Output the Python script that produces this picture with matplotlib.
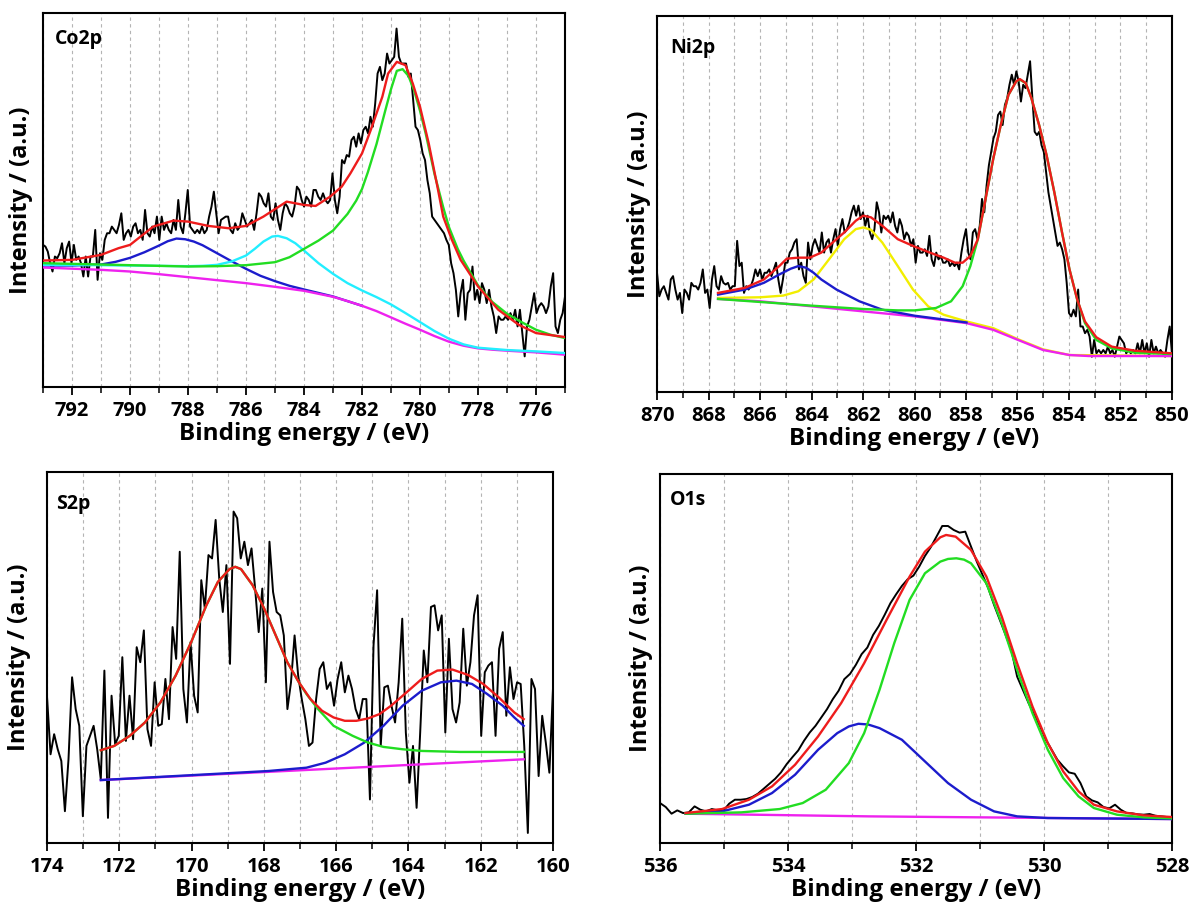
import numpy as np
import matplotlib
matplotlib.use("Agg")
import matplotlib.pyplot as plt
from matplotlib.ticker import MultipleLocator

plt.rcParams['font.family'] = ['Open Sans', 'DejaVu Sans']

# ---------------- Co2p ----------------
co_range = (793, 775)
co_raw = [427,422,407,372,347,392,387,402,432,372,
          417,437,372,427,382,392,372,332,392,332,
          392,392,472,322,402,382,442,462,462,482,
          472,462,487,522,442,462,472,452,482,492,
          462,472,442,532,462,452,482,462,512,442,
          512,472,492,472,462,502,472,562,482,462,
          522,592,482,472,462,472,462,482,462,472,
          512,542,587,522,462,502,507,512,512,472,
          462,492,472,482,522,502,482,492,502,472,
          522,582,572,552,542,582,512,502,552,502,
          472,522,552,542,522,512,542,602,592,562,
          542,572,562,542,592,592,572,562,582,562,
          552,562,642,562,522,572,682,672,697,692,
          742,752,722,762,732,772,782,762,812,782,
          852,942,962,922,942,1002,972,982,992,1077,
          992,972,972,972,932,942,862,782,772,742,
          702,682,622,582,512,502,492,482,472,462,
          442,427,372,342,292,212,282,322,202,282,
          292,362,262,292,252,312,292,252,292,242,
          212,162,212,202,202,212,202,222,202,232,
          182,232,162,92,182,202,242,282,222,242,
          252,242,222,242,302,342,182,162,202,222,
          272]
co_bg_x = [793,791,790,789,788,787,786,785,784,783,782.5,782,781.5,781,780.5,780,779.5,779,778.5,778,777.5,777,776,775]
co_bg_y = [359,352,347,339,330,321,312,301,289,271,258,244,228,209,190,172,153,136,124,116,112,109,104,97]
co_blue_x = [793,792,791,790.5,790,789.5,789,788.7,788.4,788.1,787.8,787.5,787,786.5,786,785.5,785,784.5,784,783,782.5,782]
co_blue_y = [365,365,368,376,388,405,425,438,446,444,437,426,402,378,355,334,318,304,293,272,258,244]
co_cyan_x = [793,791,789,788,787.5,787,786.5,786,785.7,785.4,785.1,784.9,784.6,784.3,784,783.5,783,782.5,782,781.5,781,780.5,780,779.5,779,778.5,778,777,776,775]
co_cyan_y = [367,366,364,363,364,367,377,395,415,437,452,454,447,432,410,372,340,312,290,270,248,222,195,168,145,128,118,111,107,102]
co_green_x = [793,791,789,788,787,786,785,784.5,784,783.5,783,782.5,782.2,782,781.8,781.5,781.2,781,780.8,780.6,780.4,780.2,780,779.8,779.5,779.2,779,778.7,778.5,778,777.5,777,776.5,776,775.5,775]
co_green_y = [372,368,364,362,363,366,375,390,415,440,470,520,560,595,645,730,830,895,950,955,935,890,830,760,640,540,480,415,380,305,255,220,195,172,157,147]
co_red_x = [793,792,791,790.4,790,789.2,788.5,788,787.3,786.6,786,785.4,784.6,784,783.6,783.1,782.7,782.4,782,781.7,781.3,781.1,780.8,780.5,780.25,780,779.7,779.4,779.2,778.9,778.6,778,777.3,776.6,776,775]
co_red_y = [380,382,397,417,427,482,500,497,484,477,484,512,557,547,544,572,602,642,702,772,872,942,977,967,912,842,732,602,512,442,382,302,232,187,162,150]

# ---------------- Ni2p ----------------
ni_range = (870, 850)
ni_raw = [355,285,305,315,295,275,335,345,305,275,
          295,235,305,295,275,325,315,315,305,325,
          365,295,305,250,335,375,315,305,345,325,
          320,325,305,315,315,450,375,385,295,315,
          305,315,335,365,345,365,335,355,355,365,
          345,365,385,335,295,335,385,385,415,425,
          445,455,365,385,345,325,445,395,435,455,
          435,415,475,415,445,455,415,455,485,435,
          485,515,475,485,505,535,555,525,555,515,
          535,495,525,475,455,485,565,535,475,525,
          515,525,505,535,495,475,515,495,455,475,
          465,435,455,385,435,415,415,425,405,465,
          395,375,415,395,405,385,385,395,375,385,
          375,385,365,415,455,485,415,395,475,485,
          455,495,575,535,615,675,715,755,775,825,
          835,795,855,875,915,945,915,955,925,865,
          915,905,945,985,875,775,765,775,735,715,
          655,595,555,515,475,435,445,425,395,325,
          235,225,245,225,305,195,195,175,185,165,
          105,155,115,125,115,125,115,135,115,125,
          105,135,165,155,145,115,125,115,125,115,
          145,115,155,115,145,105,155,115,135,115,
          125,115,105,155,195,115]
ni_bg_x = [867.63,865.99,863.99,861.99,859.99,857.98,856.94,855.98,855.01,853.98,853.23,850]
ni_bg_y = [277,270,255,240,225,205,185,155,125,110,107,107]
ni_blue_x = [867.63,866.59,865.85,865.25,864.81,864.51,864.21,863.92,863.62,863.03,862.14,861.25,859.99,857.98]
ni_blue_y = [290,305,325,350,367,375,370,355,335,305,270,245,227,207]
ni_yel_x = [867.63,865.99,865.10,864.51,863.92,863.32,862.73,862.28,861.99,861.69,861.25,860.65,860.06,859.47,858.87,857.98,856.94,855.98,855.01,853.98,850]
ni_yel_y = [280,282,287,300,335,395,455,485,490,483,445,375,305,255,230,210,190,157,127,110,107]
ni_green_x = [867.63,863.99,861.99,860.65,859.99,859.17,858.58,858.13,857.83,857.54,857.24,856.94,856.65,856.35,856.05,855.91,855.68,855.46,855.16,854.87,854.57,854.27,853.98,853.68,853.38,852.94,852.34,851.45,850]
ni_green_y = [277,257,247,243,243,250,270,315,375,455,575,695,795,885,925,930,920,875,795,705,595,475,365,275,205,155,130,117,113]
ni_red_x = [867.63,866.59,865.85,865.25,864.96,864.51,864.07,863.62,863.18,862.73,862.28,861.99,861.69,861.25,860.65,860.06,859.47,858.87,858.43,858.13,857.83,857.54,857.24,856.94,856.65,856.35,856.05,855.91,855.68,855.46,855.16,854.87,854.57,854.27,853.98,853.68,853.38,852.94,852.34,851.45,850]
ni_red_y = [295,310,335,375,397,400,400,415,445,475,510,525,520,495,455,435,417,400,385,385,405,455,575,695,795,885,925,932,920,875,795,705,595,475,365,275,210,163,135,123,115]

# ---------------- S2p ----------------
s_range = (174, 160)
s_raw = [440,265,325,280,245,95,250,495,400,350,
         80,290,320,350,280,190,515,75,440,295,
         320,555,305,440,310,585,540,635,340,290,
         480,350,355,490,370,645,550,870,460,360,
         600,440,390,785,700,860,850,965,790,690,
         830,535,990,970,850,900,830,880,760,630,
         760,480,900,750,690,680,620,400,480,620,
         500,430,370,290,300,430,520,540,460,480,
         410,490,540,450,500,460,400,370,430,430,
         130,590,755,290,465,470,410,360,480,670,
         330,180,290,105,330,575,480,705,710,635,
         680,330,610,400,360,420,640,470,540,680,
         740,320,510,530,540,320,580,630,380,525,
         430,480,475,290,30,490,460,200,380,300,
         210,460]
s_bg_x = [172.51,166.66,160.81]
s_bg_y = [188,219,250]
s_red_x = [172.51,172.14,171.71,171.29,170.86,170.44,170.01,169.59,169.27,168.95,168.79,168.63,168.31,167.99,167.67,167.35,167.03,166.71,166.39,166.07,165.76,165.44,165.12,164.80,164.48,164.05,163.63,163.20,162.78,162.35,161.93,161.50,161.07,160.81]
s_red_y = [277,290,320,360,420,500,600,710,780,818,825,818,770,700,620,540,480,430,395,375,365,365,372,385,410,450,490,515,518,502,475,435,390,370]
s_green_x = [172.51,172.14,171.71,171.29,170.86,170.44,170.01,169.59,169.27,168.95,168.79,168.63,168.31,167.99,167.67,167.35,167.03,166.82,166.5,166.07,165.54,165.12,164.69,164.16,163.63,162.56,160.81]
s_green_y = [277,290,320,360,420,500,600,710,780,818,825,818,770,700,620,540,480,445,400,350,320,300,287,280,275,272,272]
s_blue_x = [172.51,167.88,166.82,166.29,165.76,165.22,164.69,164.16,163.63,163.10,162.67,162.24,161.82,161.39,161.07,160.81]
s_blue_y = [188,215,225,240,265,300,350,410,455,480,485,475,445,410,375,350]

# ---------------- O1s ----------------
o_range = (536, 528)
o_raw_end = 527.99
o_raw = [120,108,88,98,90,92,110,100,95,102,
         98,97,118,130,130,132,138,148,163,178,
         193,212,237,258,278,307,332,352,377,402,
         432,457,492,508,535,567,587,625,652,685,
         720,747,772,792,803,830,862,888,920,952,
         952,940,932,935,890,845,805,765,715,670,
         625,580,500,460,420,385,350,310,280,250,
         230,212,208,180,140,128,122,108,104,115,
         100,90,89,86,85,87,82,80,78,75]
o_bg_x = [535.60,532.74,528.0]
o_bg_y = [88,80,72]
o_blue_x = [535.60,535.03,534.61,534.25,533.89,533.53,533.23,533.05,532.90,532.75,532.57,532.22,531.86,531.50,531.14,530.78,530.42,529.94,528.0]
o_blue_y = [88,95,115,150,205,280,330,350,358,356,345,310,245,180,130,95,80,75,72]
o_green_x = [535.60,534.73,534.13,533.77,533.41,533.05,532.81,532.57,532.34,532.10,531.86,531.62,531.50,531.37,531.25,531.14,530.90,530.66,530.42,530.18,529.94,529.70,529.46,529.22,528.86,528.44,528.0]
o_green_y = [88,92,102,120,160,240,330,460,600,730,810,845,853,855,851,840,780,660,520,390,280,195,140,105,85,77,74]
o_red_x = [535.60,535.03,534.61,534.25,533.89,533.53,533.17,532.81,532.46,532.10,531.86,531.62,531.53,531.38,531.14,530.90,530.66,530.42,530.18,529.94,529.70,529.46,529.22,528.86,528.44,528.0]
o_red_y = [90,102,130,170,235,320,420,540,670,800,875,918,925,920,880,800,680,540,410,300,215,155,115,95,83,78]

C_RED = '#ee1c1c'
C_GREEN = '#22dd22'
C_BLUE = '#1c1ccc'
C_CYAN = '#22eeff'
C_MAG = '#ee22ee'
C_YEL = '#f2ee00'

fig = plt.figure(figsize=(11.92, 9.05), dpi=100)

def setup(ax, xr, ymax, label, ylab_x, lab_pos):
    ax.set_xlim(xr)
    ax.set_ylim(0, ymax)
    ax.xaxis.set_major_locator(MultipleLocator(2))
    ax.xaxis.set_minor_locator(MultipleLocator(1))
    ax.set_yticks([])
    for x in range(int(min(xr)), int(max(xr)) + 1):
        ax.axvline(x, color='#b4b4b4', lw=0.8, ls=(0, (3, 3)), zorder=0)
    for s in ax.spines.values():
        s.set_linewidth(1.5)
    ax.tick_params(axis='x', which='major', direction='out', length=6, width=1.3,
                   labelsize=14.5, pad=4)
    ax.tick_params(axis='x', which='minor', direction='out', length=4, width=1.1)
    for t in ax.get_xticklabels():
        t.set_fontweight('bold')
    ax.set_xlabel('Binding energy / (eV)', fontsize=17.5, fontweight='bold', labelpad=1)
    ax.set_ylabel('Intensity / (a.u.)', fontsize=17, fontweight='bold')
    ax.yaxis.set_label_coords(ylab_x, 0.5)
    ax.text(lab_pos[0], lab_pos[1], label, transform=ax.transAxes, fontsize=14,
            fontweight='bold', ha='left', va='center')

lw_d = 1.4
lw_f = 1.7

# Co2p
ax1 = fig.add_axes([0.0361, 0.5724, 0.4379, 0.4133])
setup(ax1, co_range, 1124, 'Co2p', -0.019, (0.022, 0.93))
ax1.plot(np.linspace(co_range[0], co_range[1], len(co_raw)), co_raw, color='black', lw=lw_d, zorder=2)
ax1.plot(co_blue_x, co_blue_y, color=C_BLUE, lw=lw_f, zorder=3)
ax1.plot(co_bg_x, co_bg_y, color=C_MAG, lw=lw_f, zorder=4)
ax1.plot(co_cyan_x, co_cyan_y, color=C_CYAN, lw=lw_f, zorder=4)
ax1.plot(co_green_x, co_green_y, color=C_GREEN, lw=lw_f, zorder=5)
ax1.plot(co_red_x, co_red_y, color=C_RED, lw=lw_f, zorder=6)

# Ni2p
ax2 = fig.add_axes([0.5512, 0.5669, 0.4320, 0.4155])
setup(ax2, ni_range, 1120, 'Ni2p', -0.012, (0.025, 0.915))
ax2.plot(np.linspace(ni_range[0], ni_range[1], len(ni_raw)), ni_raw, color='black', lw=lw_d, zorder=2)
ax2.plot(ni_yel_x, ni_yel_y, color=C_YEL, lw=lw_f, zorder=3)
ax2.plot(ni_bg_x, ni_bg_y, color=C_MAG, lw=lw_f, zorder=3)
ax2.plot(ni_blue_x, ni_blue_y, color=C_BLUE, lw=lw_f, zorder=4)
ax2.plot(ni_green_x, ni_green_y, color=C_GREEN, lw=lw_f, zorder=4)
ax2.plot(ni_red_x, ni_red_y, color=C_RED, lw=lw_f, zorder=6)

# S2p
ax3 = fig.add_axes([0.0394, 0.0685, 0.4245, 0.4099])
setup(ax3, s_range, 1108, 'S2p', -0.032, (0.018, 0.915))
ax3.plot(np.linspace(s_range[0], s_range[1], len(s_raw)), s_raw, color='black', lw=lw_d, zorder=2)
ax3.plot(s_bg_x, s_bg_y, color=C_MAG, lw=lw_f, zorder=3)
ax3.plot(s_blue_x, s_blue_y, color=C_BLUE, lw=lw_f, zorder=4)
ax3.plot(s_green_x, s_green_y, color=C_GREEN, lw=lw_f, zorder=4)
ax3.plot(s_red_x, s_red_y, color=C_RED, lw=lw_f, zorder=6)

# O1s
ax4 = fig.add_axes([0.5537, 0.0685, 0.4295, 0.4077])
setup(ax4, o_range, 1108, 'O1s', -0.014, (0.02, 0.93))
ax4.plot(np.linspace(o_range[0], o_raw_end, len(o_raw)), o_raw, color='black', lw=lw_d, zorder=2)
ax4.plot(o_bg_x, o_bg_y, color=C_MAG, lw=lw_f, zorder=3)
ax4.plot(o_blue_x, o_blue_y, color=C_BLUE, lw=lw_f, zorder=4)
ax4.plot(o_green_x, o_green_y, color=C_GREEN, lw=lw_f, zorder=4)
ax4.plot(o_red_x, o_red_y, color=C_RED, lw=lw_f, zorder=6)

fig.savefig('out.png', dpi=100)
